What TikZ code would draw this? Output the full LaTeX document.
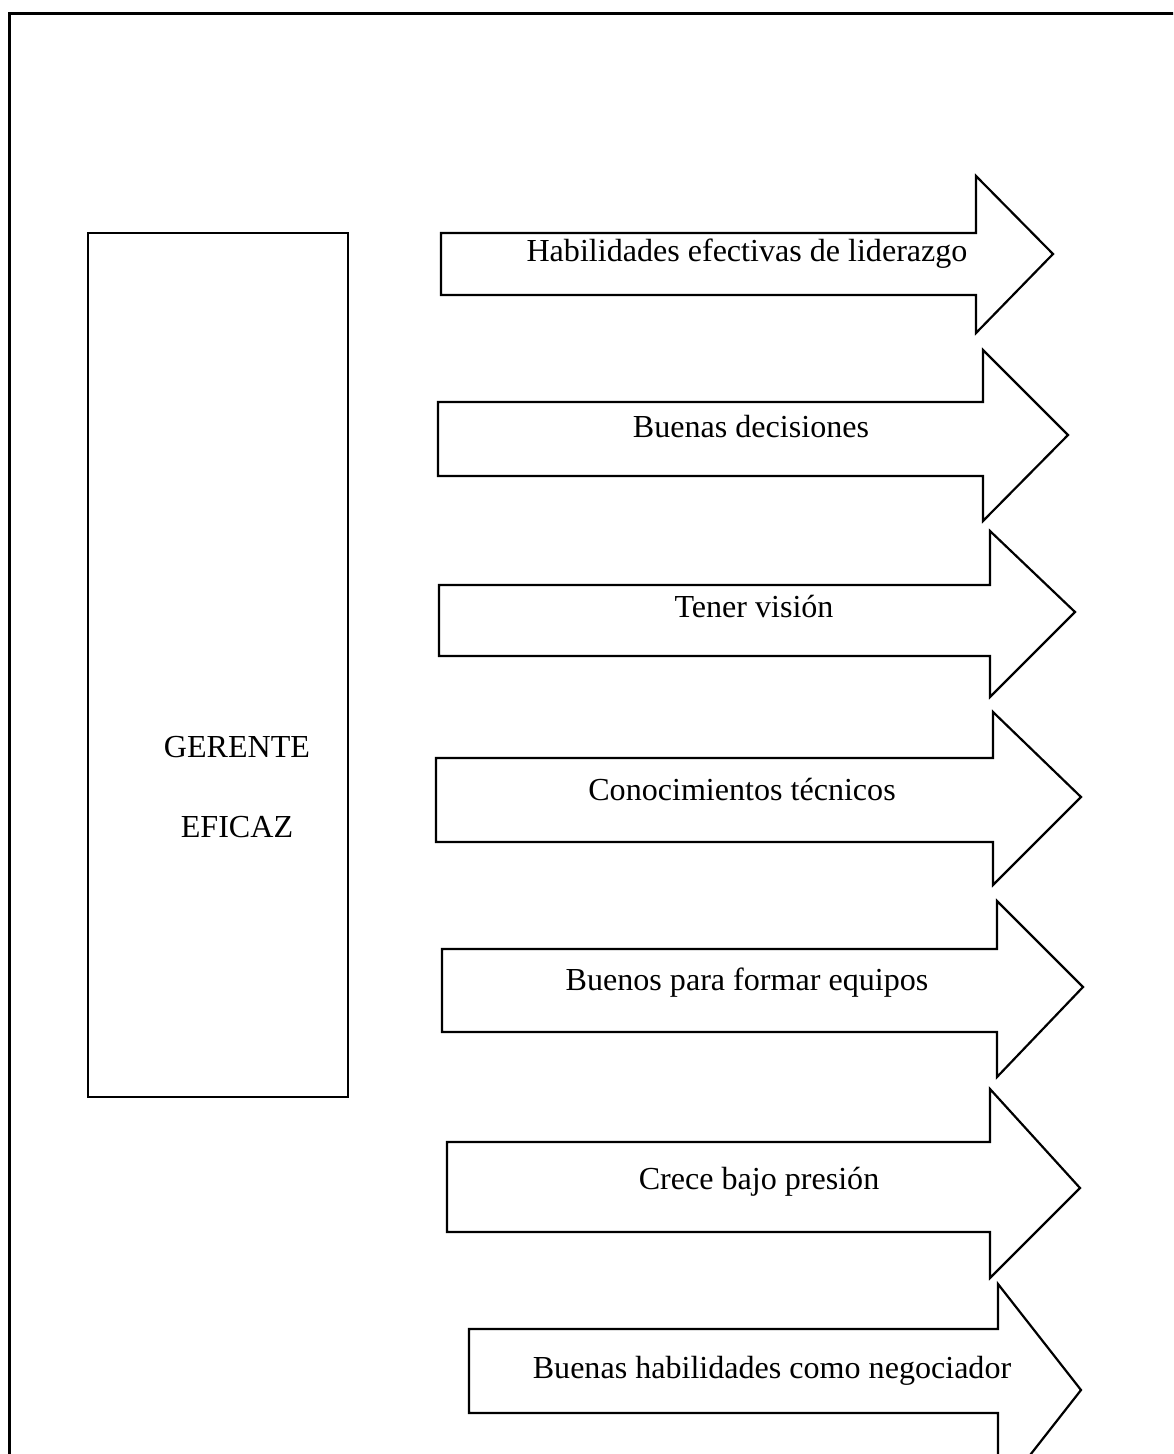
\documentclass[tikz,border=0pt]{standalone}
\usepackage{fontspec}
\setmainfont{Liberation Serif}
\begin{document}
\begin{tikzpicture}[x=1bp,y=-1bp,
  frame/.style={draw=black,line width=3bp},
  box/.style={draw=black,line width=2.5bp},
  arr/.style={draw=black,line width=2.2bp,line join=miter},
  lbl/.style={anchor=base,inner sep=0pt,font=\fontsize{32.2}{38}\selectfont}]
\useasboundingbox (0,0) rectangle (1173,1454);
\begin{scope}
\clip (0,0) rectangle (1173,1454);
\draw[frame] (9,13.5) rectangle (1190,1480);
\draw[box] (88,233) rectangle (348,1097);
\node[lbl] (g1) at (237,757) {GERENTE};
\node[lbl] (g2) at (237,837) {EFICAZ};
% arrows: left, rtop, rbot, shaftx, htop, hbot, tipx, tipy
\foreach \l/\rt/\rb/\sx/\ht/\hb/\tx/\ty [count=\i] in {
  441/233/295/976/176/333/1053/254,
  438/402/476/983/350/521/1068/435,
  439/585/656/990/531/697/1075/612,
  436/758/842/993/712/885/1081/797,
  442/949/1032/997/901/1077/1083/987,
  447/1142/1232/990/1089/1278/1080/1188,
  469/1329/1413/998/1284/1496/1081/1390}
  \draw[arr] (\l,\rt) -- (\sx,\rt) -- (\sx,\ht) -- (\tx,\ty) -- (\sx,\hb) -- (\sx,\rb) -- (\l,\rb) -- cycle;
\end{scope}
\node[lbl] (a1) at (747,261) {Habilidades efectivas de liderazgo};
\node[lbl] (a2) at (751,437) {Buenas decisiones};
\node[lbl] (a3) at (754,617) {Tener visión};
\node[lbl] (a4) at (742,800) {Conocimientos técnicos};
\node[lbl] (a5) at (747,990) {Buenos para formar equipos};
\node[lbl] (a6) at (759,1189) {Crece bajo presión};
\node[lbl] (a7) at (772,1378) {Buenas habilidades como negociador};
\end{tikzpicture}
\end{document}
